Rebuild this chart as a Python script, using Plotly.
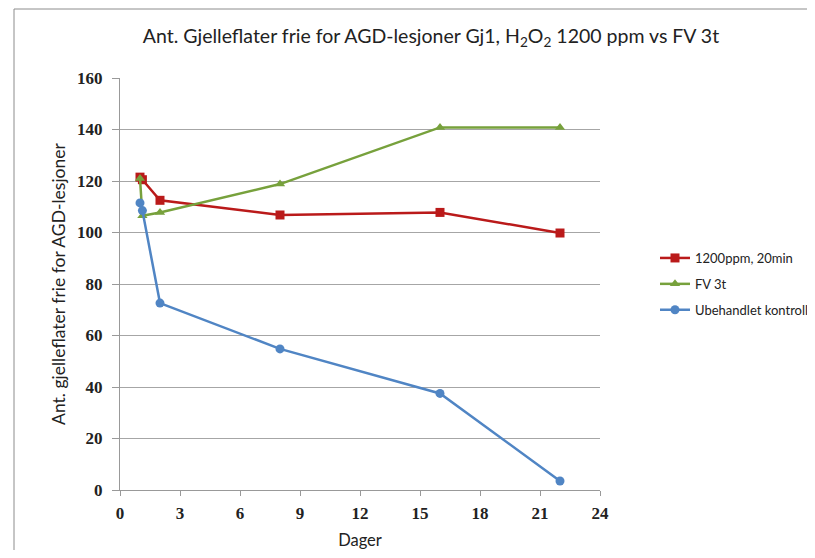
import plotly.graph_objects as go

days = [1.0, 1.12, 2, 8, 16, 22]
red_vals = [121.5, 120.5, 112.5, 106.8, 107.8, 99.8]
green_days = [1.0, 1.12, 2, 8, 16, 22]
green_vals = [121.0, 106.5, 107.8, 118.8, 140.8, 140.8]
blue_vals = [111.5, 108.5, 72.6, 54.8, 37.5, 3.5]
names = ["1200ppm, 20min", "FV 3t", "Ubehandlet kontroll"]
x_ticks = [0, 3, 6, 9, 12, 15, 18, 21, 24]
y_ticks = [0, 20, 40, 60, 80, 100, 120, 140, 160]

# page is rendered with an ~8px body margin; lay out in page pixels
OFF = 8
W, H = 815 - 2 * OFF, 558 - 2 * OFF
PL, PR, PT, PB = 120, 600, 78, 490   # plot area in page pixels
L, T = PL - OFF, PT - OFF
R = W - (PR - OFF)
B = H - (PB - OFF)
pw, ph = PR - PL, PB - PT

def px_x(p):
    return (p - PL) / pw

def px_y(p):
    return (PB - p) / ph

fig = go.Figure()
fig.add_trace(go.Scatter(x=days, y=red_vals, name=names[0], mode="lines+markers", legendgroup="a",
                         line=dict(color="#BA1A1A", width=2.5),
                         marker=dict(symbol="square", size=9, color="#BA1A1A")))
fig.add_trace(go.Scatter(x=green_days, y=green_vals, name=names[1], mode="lines+markers", legendgroup="b",
                         line=dict(color="#77A13C", width=2.5),
                         marker=dict(symbol="triangle-up", size=9, color="#77A13C")))
fig.add_trace(go.Scatter(x=days, y=blue_vals, name=names[2], mode="lines+markers", legendgroup="c",
                         line=dict(color="#5085C4", width=2.5),
                         marker=dict(symbol="circle", size=9, color="#5085C4")))

tickfont = dict(family="Liberation Serif, DejaVu Serif, serif", size=17, color="#222", weight="bold")
sans = "Lato, Open Sans, sans-serif"

fig.update_layout(
    width=W, height=H,
    margin=dict(l=L, r=R, t=T, b=B, autoexpand=False),
    paper_bgcolor="white", plot_bgcolor="white",
    font=dict(family=sans, color="#222"),
    title=dict(text="Ant. Gjelleflater frie for AGD-lesjoner Gj1, H<sub>2</sub>O<sub>2</sub> 1200 ppm vs FV 3t",
               xref="paper", x=px_x(431), xanchor="center",
               yref="container", y=1 - (36 - OFF) / H, yanchor="middle",
               font=dict(size=19.5, family=sans, color="#222")),
    xaxis=dict(range=[0, 24], tickvals=x_ticks, showgrid=False, zeroline=False, automargin=False,
               showline=True, linecolor="#999", linewidth=1,
               ticks="outside", ticklen=5, tickcolor="#999", ticklabelstandoff=3,
               tickfont=tickfont,
               title=dict(text="Dager", font=dict(size=16.5, family=sans), standoff=12)),
    yaxis=dict(range=[0, 160], tickvals=y_ticks, showgrid=True, gridcolor="#A6A6A6", gridwidth=1,
               zeroline=False, showline=True, linecolor="#999", linewidth=1, automargin=False,
               ticks="outside", ticklen=7, tickcolor="#999", ticklabelstandoff=6,
               tickfont=tickfont,
               title=dict(text="Ant. gjelleflater frie for AGD-lesjoner", font=dict(size=17.5, family=sans), standoff=6)),
    legend=dict(x=px_x(655), y=px_y(243), xanchor="left", yanchor="top",
                font=dict(size=13, family=sans, color="#222"),
                tracegroupgap=6, itemwidth=30, bgcolor="rgba(0,0,0,0)"),
    shapes=[dict(type="rect", xref="paper", yref="paper",
                 x0=px_x(14), x1=px_x(900), y0=px_y(900), y1=px_y(9),
                 line=dict(color="#8C8C8C", width=1), fillcolor="rgba(0,0,0,0)", layer="below")],
)

fig.write_html("out.html")
